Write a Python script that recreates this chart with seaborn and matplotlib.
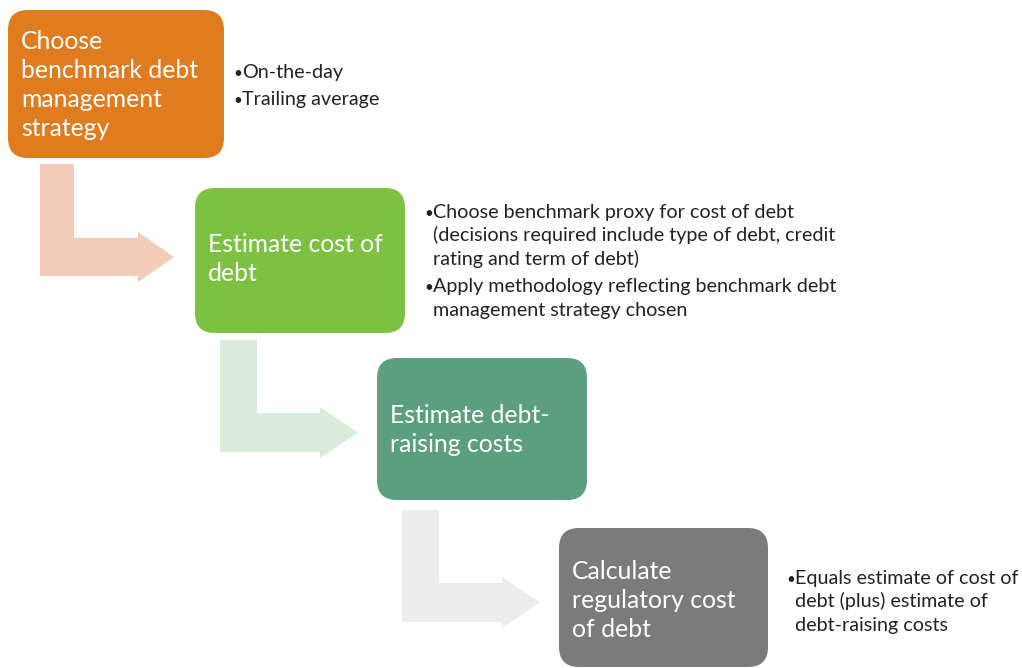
import matplotlib
matplotlib.use("Agg")
import matplotlib.pyplot as plt
from matplotlib.patches import FancyBboxPatch, Polygon
import seaborn as sns

# step labels and the notes next to each step
steps = [
    ["Choose", "benchmark debt", "management", "strategy"],
    ["Estimate cost of", "debt"],
    ["Estimate debt-", "raising costs"],
    ["Calculate", "regulatory cost", "of debt"],
]
notes = [
    [["On-the-day"], ["Trailing average"]],
    [["Choose benchmark proxy for cost of debt",
      "(decisions required include type of debt, credit",
      "rating and term of debt)"],
     ["Apply methodology reflecting benchmark debt",
      "management strategy chosen"]],
    [],
    [["Equals estimate of cost of",
      "debt (plus) estimate of",
      "debt-raising costs"]],
]
box_colors = ["#E07C1F", "#7DC142", "#5C9F7F", "#7B7B7B"]
arrow_colors = ["#F4CDBA", "#D9ECD9", "#ECECEC"]

# layout in pixel units (x0, y0, x1, y1)
boxes = [(8, 10, 224, 158), (195, 188, 405, 333), (377, 358, 587, 500), (559, 528, 768, 667)]
text_first_baseline = [49, 252, 423, 579]
text_step = 29
note_x = [233, 424, None, 786]
note_first_baseline = [78, 218, None, 584]
note_step = 23.5
# arrows: stem x0, x1, top, band y0, y1, head base, tip, head y0, y1
arrows = [
    (40, 74, 164, 238, 276, 138, 174, 232, 282),
    (220, 257, 340, 413, 452, 320, 358, 407, 458),
    (402, 439, 510, 583, 622, 502, 540, 577, 628),
]

sns.set_theme(style="white")
plt.rcParams["font.family"] = ["Lato", "DejaVu Sans"]

fig = plt.figure(figsize=(10.22, 6.68), dpi=100)
ax = fig.add_axes([0, 0, 1, 1])
ax.set_xlim(0, 1022)
ax.set_ylim(668, 0)
ax.axis("off")

for (x0, x1, top, y0, y1, xb, xt, hy0, hy1), c in zip(arrows, arrow_colors):
    pts = [(x0, top), (x1, top), (x1, y0), (xb, y0), (xb, hy0),
           (xt, (hy0 + hy1) / 2), (xb, hy1), (xb, y1), (x0, y1)]
    ax.add_patch(Polygon(pts, closed=True, facecolor=c, edgecolor="none"))

r = 20
for (x0, y0, x1, y1), c, lines, base in zip(boxes, box_colors, steps, text_first_baseline):
    ax.add_patch(FancyBboxPatch((x0 + r, y0 + r), x1 - x0 - 2 * r, y1 - y0 - 2 * r,
                                boxstyle=f"round,pad={r}", facecolor=c, edgecolor="none"))
    for i, line in enumerate(lines):
        ax.text(x0 + 13, base + i * text_step, line, color="white", fontsize=17.8,
                va="baseline", ha="left")

for nx, nb, groups in zip(note_x, note_first_baseline, notes):
    if nx is None:
        continue
    k = 0
    for grp in groups:
        ax.text(nx, nb + k * note_step, "\u2022", color="#222222", fontsize=11,
                va="baseline", ha="left")
        for line in grp:
            ax.text(nx + 9, nb + k * note_step, line, color="#222222", fontsize=14.2,
                    va="baseline", ha="left")
            k += 1
        k += 0.15

fig.savefig("out.png", dpi=100)
